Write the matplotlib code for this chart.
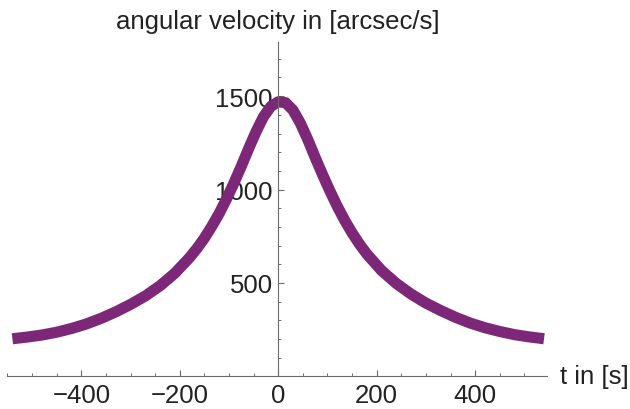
import matplotlib
matplotlib.use("Agg")
import matplotlib.pyplot as plt
from matplotlib.ticker import MultipleLocator, FuncFormatter

# time in seconds and angular velocity in arcsec/s
t_sec = [-540, -510, -480, -450, -420, -390, -360, -330, -300, -270, -240,
         -210, -180, -165, -150, -135, -120, -105, -90, -75, -60, -45, -30,
         -15, 0, 15, 30, 45, 60, 75, 90, 105, 120, 135, 150, 165, 180,
         210, 240, 270, 300, 330, 360, 390, 420, 450, 480, 510, 540]
omega = [201, 210, 221, 236, 256, 280, 310, 345, 385, 430, 485,
         552, 636, 685, 740, 803, 872, 950, 1035, 1125, 1220, 1310, 1390,
         1445, 1470, 1465, 1425, 1355, 1268, 1172, 1080, 992, 910, 835, 768, 708, 655,
         566, 497, 440, 392, 352, 316, 285, 260, 240, 223, 211, 201]

x_ticks = [-400, -200, 0, 200, 400]
y_ticks = [500, 1000, 1500]

LINE_COLOR = "#7d2778"
AXIS_COLOR = "#6b6b6b"
TEXT_COLOR = "#222222"

plt.rcParams["font.family"] = ["Liberation Sans", "DejaVu Sans"]

fig = plt.figure(figsize=(6.3, 4.1), dpi=100)
ax = fig.add_axes([7 / 630, (410 - 377.3) / 410, 540 / 630, (377.3 - 43) / 410])

ax.plot(t_sec, omega, color=LINE_COLOR, linewidth=8,
        solid_capstyle="butt", solid_joinstyle="round", zorder=2)

ax.set_xlim(-551, 546)
ax.set_ylim(0, 1790)

for side in ["top", "right"]:
    ax.spines[side].set_visible(False)
ax.spines["left"].set_position(("data", 0))
for side in ["left", "bottom"]:
    ax.spines[side].set_color(AXIS_COLOR)
    ax.spines[side].set_linewidth(0.8)

ax.set_xticks(x_ticks)
ax.set_yticks(y_ticks)
ax.xaxis.set_minor_locator(MultipleLocator(50))
ax.yaxis.set_minor_locator(MultipleLocator(100))
ax.xaxis.set_major_formatter(FuncFormatter(lambda v, p: f"{int(v)}".replace("-", "\u2212")))

ax.tick_params(axis="both", which="major", direction="in", length=4.5,
               width=0.8, color=AXIS_COLOR, labelsize=18.5, labelcolor=TEXT_COLOR)
ax.tick_params(axis="both", which="minor", direction="in", length=2.5,
               width=0.7, color=AXIS_COLOR)
ax.tick_params(axis="x", which="major", pad=4.5)
ax.tick_params(axis="y", which="major", pad=4)

ax.annotate("angular velocity in [arcsec/s]", xy=(0, 1), xycoords=("data", "axes fraction"),
            xytext=(0, 10), textcoords="offset points", ha="center", va="baseline",
            fontsize=18.5, color=TEXT_COLOR, annotation_clip=False)
ax.annotate("t in [s]", xy=(1, 0), xycoords="axes fraction",
            xytext=(9, 0), textcoords="offset points", ha="left", va="center",
            fontsize=18.5, color=TEXT_COLOR, annotation_clip=False)

fig.savefig("out.png", dpi=100, facecolor="white")
